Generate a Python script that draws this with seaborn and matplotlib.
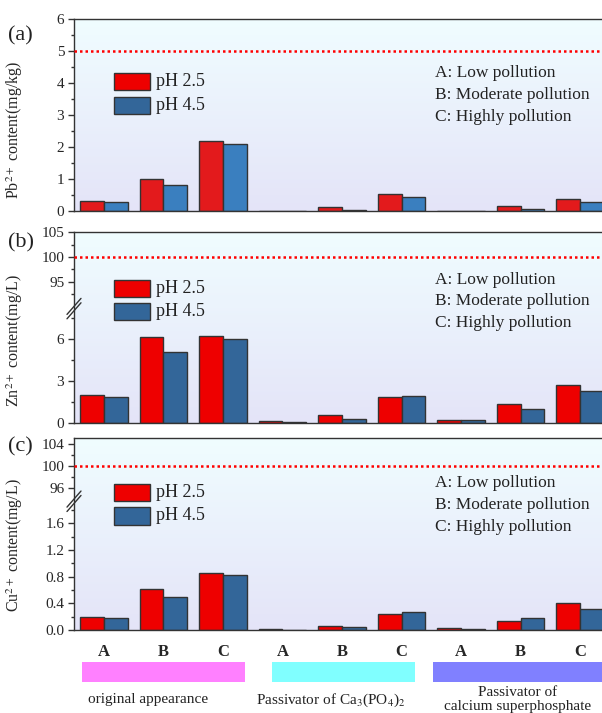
import numpy as np
import pandas as pd
import matplotlib
matplotlib.use("Agg")
import matplotlib.pyplot as plt
import seaborn as sns
from matplotlib.patches import Rectangle
from matplotlib.colors import LinearSegmentedColormap
from matplotlib import transforms

# ---------------- data ----------------
groups = ["orig-A", "orig-B", "orig-C", "ca3-A", "ca3-B", "ca3-C", "sup-A", "sup-B", "sup-C"]
group_letters = ["A", "B", "C", "A", "B", "C", "A", "B", "C"]
ph_levels = ["pH 2.5", "pH 4.5"]

pb_ph25 = [0.32, 1.00, 2.21, 0.0, 0.13, 0.55, 0.0, 0.16, 0.38]
pb_ph45 = [0.29, 0.81, 2.10, 0.0, 0.05, 0.46, 0.0, 0.08, 0.30]
zn_ph25 = [2.04, 6.11, 6.23, 0.17, 0.59, 1.85, 0.26, 1.37, 2.72]
zn_ph45 = [1.85, 5.09, 6.02, 0.10, 0.33, 1.97, 0.21, 1.00, 2.27]
cu_ph25 = [0.196, 0.61, 0.86, 0.015, 0.065, 0.246, 0.025, 0.13, 0.40]
cu_ph45 = [0.176, 0.50, 0.82, 0.005, 0.04, 0.267, 0.015, 0.186, 0.317]

pb_limit = 5
zn_limit = 100
cu_limit = 100

pollution_notes = ["A: Low pollution", "B: Moderate pollution", "C: Highly pollution"]
treatments = ["original appearance", "Passivator of Ca$_3$(PO$_4$)$_2$",
              "Passivator of\ncalcium superphosphate"]

# ---------------- style ----------------
sns.set_style("ticks")
plt.rcParams["font.family"] = ["Liberation Serif", "DejaVu Serif"]
plt.rcParams["mathtext.fontset"] = "stix"

W, H = 602, 713
fig = plt.figure(figsize=(W / 100, H / 100), dpi=100)


def fig_rect(left, top, right, bottom):
    return [left / W, 1 - bottom / H, (right - left) / W, (bottom - top) / H]


bg_cmap = LinearSegmentedColormap.from_list("bg", ["#e4e4f8", "#f0fdff"])
spine_col = "#333333"


def make_panel(top, bottom):
    rect = fig_rect(74, top, 610, bottom)
    bg = fig.add_axes(rect, zorder=0)
    grad = np.linspace(0, 1, 256).reshape(-1, 1)
    bg.imshow(grad, aspect="auto", cmap=bg_cmap, origin="lower", extent=(0, 1, 0, 1))
    bg.axis("off")
    ax = fig.add_axes(rect, zorder=1)
    ax.set_facecolor("none")
    return ax


def make_break_scale(lo_max, hi_min, lo_px, hi_px, gap):
    lo_top = lo_max * lo_px
    hi_start = lo_top + gap

    def fwd(y):
        y = np.asarray(y, float)
        return np.where(y <= lo_max, y * lo_px,
                        np.where(y >= hi_min, hi_start + (y - hi_min) * hi_px,
                                 lo_top + (y - lo_max) * gap / (hi_min - lo_max)))

    def inv(t):
        t = np.asarray(t, float)
        return np.where(t <= lo_top, t / lo_px,
                        np.where(t >= hi_start, hi_min + (t - hi_start) / hi_px,
                                 lo_max + (t - lo_top) * (hi_min - lo_max) / gap))

    return fwd, inv, (lo_top + gap / 2)


def bars(ax, v25, v45, palette):
    df = pd.DataFrame({
        "group": groups * 2,
        "pH": [ph_levels[0]] * len(groups) + [ph_levels[1]] * len(groups),
        "value": list(v25) + list(v45),
    })
    sns.barplot(data=df, x="group", y="value", hue="pH", order=groups,
                hue_order=ph_levels, palette=palette, saturation=1,
                edgecolor=spine_col, linewidth=1.0, errorbar=None,
                legend=False, ax=ax)
    ax.set_xlim(-0.5, len(groups) - 0.5)
    ax.set_xlabel("")


def style_axes(ax):
    for s in ax.spines.values():
        s.set_visible(True)
        s.set_color(spine_col)
        s.set_linewidth(1.0)
    ax.tick_params(axis="y", which="major", length=4.5, width=1.0, color=spine_col,
                   labelsize=11, pad=2.5, direction="out")
    ax.tick_params(axis="y", which="minor", length=2.5, width=1.0, color=spine_col,
                   direction="out")


def legend_and_notes(ax, top_px, bottom_px, leg_rows, note_rows, colors):
    hpx = bottom_px - top_px
    wpx = 536
    for (yt, yb), col, lab in zip(leg_rows, colors, ph_levels):
        ax.add_patch(Rectangle(((114 - 74) / wpx, (bottom_px - yb) / hpx),
                               36 / wpx, (yb - yt) / hpx, transform=ax.transAxes,
                               facecolor=col, edgecolor=spine_col, linewidth=1.0,
                               zorder=5))
        ax.text((156 - 74) / wpx, (bottom_px - (yt + yb) / 2) / hpx, lab,
                transform=ax.transAxes, fontsize=13, va="center", ha="left",
                color="#222222")
    for yc, note in zip(note_rows, pollution_notes):
        ax.text((435 - 74) / wpx, (bottom_px - yc) / hpx, note,
                transform=ax.transAxes, fontsize=12.5, va="center", ha="left",
                color="#222222")


def break_mark(ax, yfrac):
    dx, dy = 7 / 536, 8 / 191
    for off in (-2.2 / 191, 2.2 / 191):
        ax.plot([-dx, dx], [yfrac + off - dy, yfrac + off + dy], transform=ax.transAxes,
                color=spine_col, lw=1.0, clip_on=False, zorder=6)


dot_style = dict(color="#ff0000", lw=1.8, linestyle=(0, (1, 1.2)), zorder=3)
leg_colors = ["#ee0000", "#336699"]

# ---------------- panel (a) ----------------
ax_a = make_panel(19.3, 211.3)
bars(ax_a, pb_ph25, pb_ph45, ["#e31a1c", "#3a7fbf"])
ax_a.set_ylim(0, 6)
ax_a.set_yticks([0, 1, 2, 3, 4, 5, 6])
ax_a.set_yticks(np.arange(0.5, 6, 1.0), minor=True)
ax_a.axhline(pb_limit, **dot_style)
style_axes(ax_a)
ax_a.tick_params(axis="x", length=0, labelbottom=False)
ax_a.set_ylabel("Pb$^{2+}$ content(mg/kg)", fontsize=11.5)
ax_a.yaxis.set_label_coords(-0.091, 0.423)
legend_and_notes(ax_a, 19.3, 211.3, [(73, 90), (97, 114)], [73, 95, 117], leg_colors)

# ---------------- panel (b) ----------------
ax_b = make_panel(232.3, 423.3)
bars(ax_b, zn_ph25, zn_ph45, ["#ee0000", "#336699"])
fwd_b, inv_b, brk_b = make_break_scale(8, 90, 14.07, 4.93, 4.3)
ax_b.set_yscale("function", functions=(fwd_b, inv_b))
ax_b.set_ylim(0, 105)
ax_b.set_yticks([0, 3, 6, 95, 100, 105])
ax_b.set_yticklabels(["0", "3", "6", "95", "100", "105"])
ax_b.set_yticks([1.5, 4.5, 7.5, 92.5, 97.5, 102.5], minor=True)
ax_b.set_yticklabels([], minor=True)
ax_b.axhline(zn_limit, **dot_style)
style_axes(ax_b)
ax_b.tick_params(axis="x", length=0, labelbottom=False)
ax_b.set_ylabel("Zn$^{2+}$ content(mg/L)", fontsize=11.5)
ax_b.yaxis.set_label_coords(-0.091, 0.431)
break_mark(ax_b, brk_b / 191.0)
legend_and_notes(ax_b, 232.3, 423.3, [(280, 297), (303, 320)], [280, 301, 323], leg_colors)

# ---------------- panel (c) ----------------
ax_c = make_panel(438.3, 630)
bars(ax_c, cu_ph25, cu_ph45, ["#ee0000", "#336699"])
fwd_c, inv_c, brk_c = make_break_scale(1.9, 94, 66.7, 5.55, 4.0)
ax_c.set_yscale("function", functions=(fwd_c, inv_c))
ax_c.set_ylim(0, 105)
ax_c.set_yticks([0, 0.4, 0.8, 1.2, 1.6, 96, 100, 104])
ax_c.set_yticklabels(["0.0", "0.4", "0.8", "1.2", "1.6", "96", "100", "104"])
ax_c.set_yticks([0.2, 0.6, 1.0, 1.4, 1.8, 98, 102], minor=True)
ax_c.set_yticklabels([], minor=True)
ax_c.axhline(cu_limit, **dot_style)
style_axes(ax_c)
ax_c.set_xticks(range(len(groups)))
ax_c.set_xticklabels(group_letters, fontsize=12, fontweight="bold")
ax_c.tick_params(axis="x", length=0, pad=10)
ax_c.set_ylabel("Cu$^{2+}$ content(mg/L)", fontsize=11.5)
ax_c.yaxis.set_label_coords(-0.091, 0.443)
break_mark(ax_c, brk_c / 191.7)
legend_and_notes(ax_c, 438.3, 630, [(484, 501), (507, 525)], [483, 505, 527], leg_colors)

# ---------------- panel letters ----------------
for lab, yc in zip(["(a)", "(b)", "(c)"], [36, 243, 447]):
    fig.text(8 / W, 1 - yc / H, lab, fontsize=16, ha="left", va="center", color="#222222")

# ---------------- treatment bars and labels ----------------
bt = transforms.blended_transform_factory(ax_c.transData, fig.transFigure)
band_colors = ["#ff80ff", "#80ffff", "#8080ff"]
band_x = [(-0.358, 2.375), (2.818, 5.227), (5.535, 8.9)]
for (x0, x1), col in zip(band_x, band_colors):
    fig.patches.append(Rectangle((x0, 1 - 681.7 / H), x1 - x0, 20 / H, transform=bt,
                                 facecolor=col, edgecolor="none", figure=fig))

fig.text(148 / W, 1 - 700 / H, treatments[0], fontsize=11, ha="center", va="center",
         color="#222222")
fig.text(331 / W, 1 - 700 / H, treatments[1], fontsize=11, ha="center", va="center",
         color="#222222")
fig.text(518 / W, 1 - 699.5 / H, treatments[2], fontsize=11, ha="center", va="center",
         color="#222222", linespacing=1.05)

fig.savefig("out.png", dpi=100)
